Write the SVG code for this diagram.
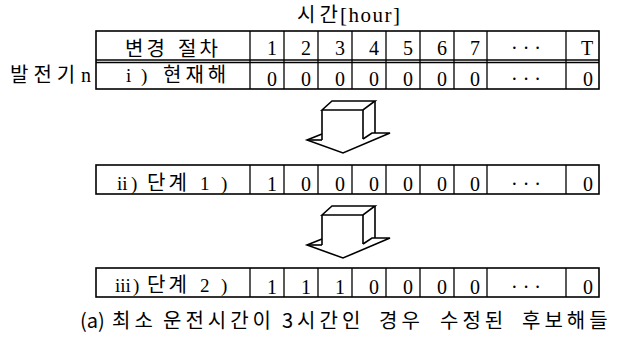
<svg xmlns="http://www.w3.org/2000/svg" width="623" height="340" viewBox="0 0 623 340">
<style>
.grid{fill:none;stroke:#000;stroke-width:1.6}
.ln{stroke:#000;stroke-width:1.3}
.kr{font-family:"Noto Sans CJK KR","Noto Sans",sans-serif;font-size:20px;fill:#000}
.num{font-family:"Liberation Serif",serif;font-size:20px;fill:#000;text-anchor:middle}
.lab{font-family:"Liberation Serif","Noto Sans CJK KR",serif;font-size:19px;fill:#000}
.arr{fill:none;stroke:#000;stroke-width:1.6;stroke-linejoin:miter}
</style>
<defs>
<g id="blockArrow">
<polygon class="arr" points="322,110 332,101 375,101 363,110"/>
<polyline class="arr" points="322,110 322,140"/>
<polyline class="arr" points="363,110 363,139"/>
<polyline class="arr" points="375,101 375,133"/>
<polyline class="arr" points="322,134 307,140 343,153 390,133 372,133 363,139"/>
<polyline class="arr" points="307,140 322,140"/>
</g>
</defs>
<g id="header">
<text class="kr" y="21.5"><tspan x="297" letter-spacing="4">시간</tspan><tspan x="340" font-family="Liberation Serif" font-size="21" letter-spacing="1.5">[hour]</tspan></text>
</g>
<g id="generator-label">
<text class="kr" y="82" font-size="21"><tspan x="10" letter-spacing="5">발전기</tspan><tspan x="81" font-family="Liberation Serif">n</tspan></text>
</g>
<g id="table-1">
<rect class="grid" x="96" y="31" width="503" height="58"/>
<line class="ln" x1="96" y1="60" x2="599" y2="60"/>
<line class="ln" x1="96" y1="62.5" x2="599" y2="62.5"/>
<g class="ln">
<line x1="250" y1="31" x2="250" y2="89"/><line x1="284" y1="31" x2="284" y2="89"/>
<line x1="318" y1="31" x2="318" y2="89"/><line x1="352" y1="31" x2="352" y2="89"/>
<line x1="386" y1="31" x2="386" y2="89"/><line x1="420" y1="31" x2="420" y2="89"/>
<line x1="454" y1="31" x2="454" y2="89"/><line x1="487" y1="31" x2="487" y2="89"/>
<line x1="566" y1="31" x2="566" y2="89"/>
</g>
<text class="kr" y="55.5" letter-spacing="3"><tspan x="125">변경</tspan><tspan x="178">절차</tspan></text>
<text class="num" y="55"><tspan x="272">1</tspan><tspan x="306">2</tspan><tspan x="340">3</tspan><tspan x="374">4</tspan><tspan x="408">5</tspan><tspan x="442">6</tspan><tspan x="475">7</tspan><tspan x="526">·  ·  ·</tspan><tspan x="587">T</tspan></text>
<text class="lab" y="82"><tspan x="126">i</tspan><tspan x="141">)</tspan><tspan x="163" font-family="Noto Sans CJK KR" font-size="20" letter-spacing="4">현재해</tspan></text>
<text class="num" y="86"><tspan x="272">0</tspan><tspan x="306">0</tspan><tspan x="340">0</tspan><tspan x="374">0</tspan><tspan x="408">0</tspan><tspan x="442">0</tspan><tspan x="475">0</tspan><tspan x="526">·  ·  ·</tspan><tspan x="588">0</tspan></text>
</g>
<g id="arrow-1"><use href="#blockArrow"/></g>
<g id="table-2">
<rect class="grid" x="96" y="165" width="503" height="29"/>
<g class="ln">
<line x1="250" y1="165" x2="250" y2="194"/><line x1="284" y1="165" x2="284" y2="194"/>
<line x1="318" y1="165" x2="318" y2="194"/><line x1="352" y1="165" x2="352" y2="194"/>
<line x1="386" y1="165" x2="386" y2="194"/><line x1="420" y1="165" x2="420" y2="194"/>
<line x1="454" y1="165" x2="454" y2="194"/><line x1="487" y1="165" x2="487" y2="194"/>
<line x1="566" y1="165" x2="566" y2="194"/>
</g>
<text class="lab" y="190"><tspan x="117">ii</tspan><tspan x="131">)</tspan><tspan x="147" font-family="Noto Sans CJK KR" font-size="20" letter-spacing="3">단계</tspan><tspan x="200">1</tspan><tspan x="221">)</tspan></text>
<text class="num" y="191"><tspan x="272">1</tspan><tspan x="306">0</tspan><tspan x="340">0</tspan><tspan x="374">0</tspan><tspan x="408">0</tspan><tspan x="442">0</tspan><tspan x="475">0</tspan><tspan x="526">·  ·  ·</tspan><tspan x="588">0</tspan></text>
</g>
<g id="arrow-2"><use href="#blockArrow" transform="translate(0,105)"/></g>
<g id="table-3">
<rect class="grid" x="96" y="268" width="503" height="29"/>
<g class="ln">
<line x1="250" y1="268" x2="250" y2="297"/><line x1="284" y1="268" x2="284" y2="297"/>
<line x1="318" y1="268" x2="318" y2="297"/><line x1="352" y1="268" x2="352" y2="297"/>
<line x1="386" y1="268" x2="386" y2="297"/><line x1="420" y1="268" x2="420" y2="297"/>
<line x1="454" y1="268" x2="454" y2="297"/><line x1="487" y1="268" x2="487" y2="297"/>
<line x1="566" y1="268" x2="566" y2="297"/>
</g>
<text class="lab" y="292"><tspan x="115">iii</tspan><tspan x="133">)</tspan><tspan x="147" font-family="Noto Sans CJK KR" font-size="20" letter-spacing="3">단계</tspan><tspan x="200">2</tspan><tspan x="221">)</tspan></text>
<text class="num" y="294"><tspan x="272">1</tspan><tspan x="306">1</tspan><tspan x="340">1</tspan><tspan x="374">0</tspan><tspan x="408">0</tspan><tspan x="442">0</tspan><tspan x="475">0</tspan><tspan x="526">·  ·  ·</tspan><tspan x="588">0</tspan></text>
</g>
<g id="caption">
<text class="kr" y="328" letter-spacing="4"><tspan x="80" letter-spacing="0">(a)</tspan><tspan x="112">최소</tspan><tspan x="163">운전시간이</tspan><tspan x="282">3시간인</tspan><tspan x="379">경우</tspan><tspan x="440">수정된</tspan><tspan x="522">후보해들</tspan></text>
</g>
</svg>
